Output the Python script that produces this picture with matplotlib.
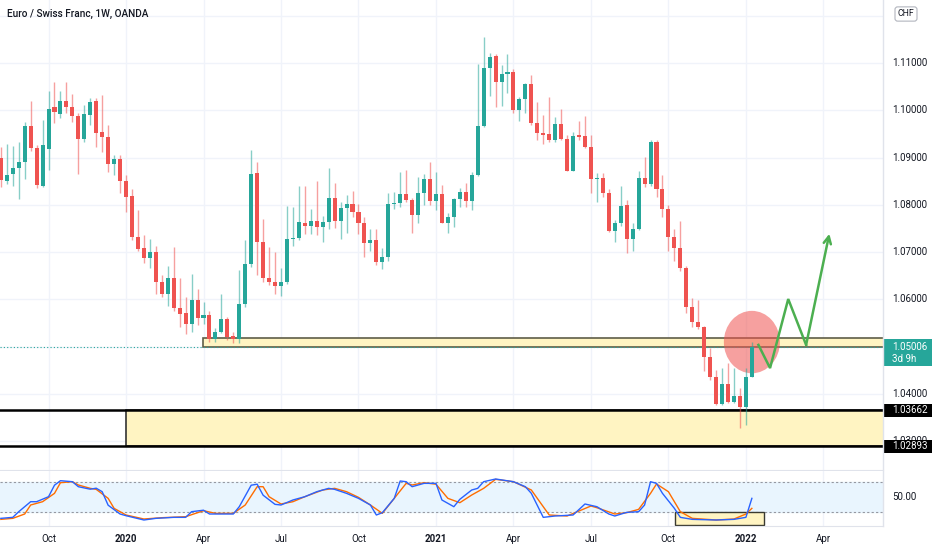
import matplotlib
matplotlib.use("Agg")
import matplotlib.pyplot as plt
import matplotlib.transforms as mtransforms
from matplotlib.patches import Rectangle, Ellipse
import pandas as pd

plt.rcParams['font.family'] = ['Roboto', 'DejaVu Sans']

# ---------------- data ----------------
TITLE = "Euro / Swiss Franc, 1W, OANDA"
FIRST_WEEK = "2019-08-12"   # weekly bars (Mondays)

OPEN = [1.0899, 1.0851, 1.0865, 1.0879, 1.0890, 1.0967, 1.0921, 1.0841, 1.0918, 1.1006,
        1.0992, 1.1020, 1.1006, 1.0989, 1.0939, 1.0990, 1.1020, 1.0955, 1.0943, 1.0886,
        1.0896, 1.0851, 1.0819, 1.0733, 1.0708, 1.0687, 1.0700, 1.0638, 1.0612, 1.0646,
        1.0583, 1.0571, 1.0548, 1.0599, 1.0560, 1.0567, 1.0516, 1.0531, 1.0558, 1.0523,
        1.0516, 1.0590, 1.0674, 1.0867, 1.0721, 1.0646, 1.0636, 1.0629, 1.0636, 1.0727,
        1.0729, 1.0762, 1.0755, 1.0766, 1.0753, 1.0764, 1.0814, 1.0767, 1.0793, 1.0801,
        1.0784, 1.0762, 1.0720, 1.0726, 1.0680, 1.0690, 1.0801, 1.0803, 1.0822, 1.0810,
        1.0779, 1.0825, 1.0855, 1.0809, 1.0822, 1.0762, 1.0775, 1.0812, 1.0827, 1.0809,
        1.0863, 1.0967, 1.1089, 1.1115, 1.1060, 1.1077, 1.1082, 1.1001, 1.1024, 1.1056,
        1.0974, 1.0953, 1.0949, 1.0937, 1.0971, 1.0939, 1.0872, 1.0948, 1.0946, 1.0923,
        1.0854, 1.0856, 1.0826, 1.0745, 1.0762, 1.0799, 1.0728, 1.0748, 1.0856, 1.0844,
        1.0932, 1.0834, 1.0791, 1.0733, 1.0708, 1.0667, 1.0585, 1.0552, 1.0542, 1.0479,
        1.0437, 1.0379, 1.0421, 1.0384, 1.0395, 1.0373, 1.0436]
HIGH = [1.0923, 1.0929, 1.0925, 1.0932, 1.0975, 1.1020, 1.0927, 1.0980, 1.1041, 1.1059,
        1.1041, 1.1059, 1.1034, 1.0995, 1.1011, 1.1025, 1.1025, 1.1032, 1.0969, 1.0905,
        1.0905, 1.0863, 1.0833, 1.0789, 1.0736, 1.0728, 1.0713, 1.0652, 1.0671, 1.0710,
        1.0646, 1.0606, 1.0653, 1.0622, 1.0594, 1.0576, 1.0539, 1.0611, 1.0564, 1.0532,
        1.0662, 1.0726, 1.0916, 1.0891, 1.0770, 1.0712, 1.0700, 1.0667, 1.0798, 1.0796,
        1.0840, 1.0840, 1.0791, 1.0851, 1.0777, 1.0879, 1.0847, 1.0807, 1.0821, 1.0830,
        1.0802, 1.0774, 1.0749, 1.0748, 1.0708, 1.0825, 1.0827, 1.0870, 1.0874, 1.0814,
        1.0860, 1.0865, 1.0891, 1.0869, 1.0842, 1.0783, 1.0814, 1.0836, 1.0846, 1.0870,
        1.1098, 1.1154, 1.1121, 1.1119, 1.1096, 1.1119, 1.1087, 1.1029, 1.1057, 1.1075,
        1.1018, 1.0990, 1.1029, 1.0985, 1.1002, 1.0948, 1.0955, 1.0978, 1.0988, 1.0948,
        1.0867, 1.0867, 1.0833, 1.0768, 1.0840, 1.0810, 1.0761, 1.0872, 1.0902, 1.0937,
        1.0937, 1.0863, 1.0800, 1.0748, 1.0767, 1.0671, 1.0603, 1.0599, 1.0544, 1.0497,
        1.0452, 1.0455, 1.0466, 1.0455, 1.0412, 1.0455, 1.0511]
LOW = [1.0837, 1.0844, 1.0840, 1.0812, 1.0854, 1.0914, 1.0835, 1.0837, 1.0874, 1.0973,
       1.0983, 1.0994, 1.0976, 1.0865, 1.0933, 1.0969, 1.0922, 1.0912, 1.0870, 1.0863,
       1.0826, 1.0784, 1.0726, 1.0703, 1.0677, 1.0666, 1.0612, 1.0606, 1.0586, 1.0576,
       1.0541, 1.0527, 1.0532, 1.0546, 1.0548, 1.0511, 1.0511, 1.0529, 1.0514, 1.0509,
       1.0507, 1.0585, 1.0669, 1.0652, 1.0638, 1.0631, 1.0612, 1.0608, 1.0633, 1.0713,
       1.0726, 1.0738, 1.0738, 1.0736, 1.0722, 1.0748, 1.0752, 1.0728, 1.0741, 1.0774,
       1.0738, 1.0689, 1.0703, 1.0673, 1.0664, 1.0681, 1.0791, 1.0796, 1.0807, 1.0740,
       1.0761, 1.0800, 1.0800, 1.0789, 1.0761, 1.0740, 1.0753, 1.0796, 1.0796, 1.0789,
       1.0862, 1.0965, 1.1031, 1.1006, 1.1010, 1.1037, 1.0994, 1.0978, 1.0995, 1.0969,
       1.0937, 1.0929, 1.0934, 1.0934, 1.0937, 1.0872, 1.0872, 1.0937, 1.0920, 1.0826,
       1.0807, 1.0817, 1.0743, 1.0721, 1.0756, 1.0698, 1.0703, 1.0747, 1.0838, 1.0840,
       1.0817, 1.0775, 1.0703, 1.0682, 1.0660, 1.0571, 1.0542, 1.0537, 1.0449, 1.0430,
       1.0377, 1.0377, 1.0382, 1.0382, 1.0328, 1.0335, 1.0436]
CLOSE = [1.0853, 1.0863, 1.0879, 1.0890, 1.0967, 1.0921, 1.0842, 1.0927, 1.1002, 1.0997,
         1.1020, 1.1006, 1.0989, 1.0939, 1.0992, 1.1018, 1.0953, 1.0943, 1.0886, 1.0896,
         1.0851, 1.0817, 1.0733, 1.0707, 1.0687, 1.0700, 1.0638, 1.0612, 1.0646, 1.0583,
         1.0569, 1.0548, 1.0599, 1.0560, 1.0567, 1.0516, 1.0531, 1.0558, 1.0521, 1.0516,
         1.0590, 1.0674, 1.0865, 1.0721, 1.0645, 1.0636, 1.0629, 1.0636, 1.0728, 1.0731,
         1.0763, 1.0755, 1.0766, 1.0754, 1.0764, 1.0814, 1.0767, 1.0794, 1.0801, 1.0784,
         1.0762, 1.0719, 1.0726, 1.0680, 1.0690, 1.0801, 1.0803, 1.0822, 1.0810, 1.0779,
         1.0825, 1.0855, 1.0809, 1.0822, 1.0762, 1.0775, 1.0812, 1.0827, 1.0809, 1.0863,
         1.0967, 1.1089, 1.1113, 1.1060, 1.1076, 1.1082, 1.1001, 1.1024, 1.1056, 1.0974,
         1.0953, 1.0948, 1.0937, 1.0971, 1.0939, 1.0872, 1.0946, 1.0944, 1.0923, 1.0855,
         1.0856, 1.0826, 1.0745, 1.0762, 1.0798, 1.0728, 1.0748, 1.0856, 1.0844, 1.0932,
         1.0834, 1.0791, 1.0733, 1.0708, 1.0667, 1.0585, 1.0552, 1.0542, 1.0479, 1.0436,
         1.0379, 1.0421, 1.0384, 1.0395, 1.0373, 1.0436, 1.05006]

# Stochastic (%K blue, %D orange) read at bar indices
STOCH_K_BARS = [0, 2, 3, 5, 6, 8, 9, 10, 12, 13, 15, 16, 17, 18, 20, 21, 24, 26, 29, 31,
                32, 34, 35, 39, 40, 42, 43, 44, 46, 47, 49, 51, 53, 55, 56, 58, 60, 62, 63, 64,
                66, 67, 68, 69, 71, 73, 74, 76, 77, 79, 80, 81, 83, 86, 88, 89, 91, 93, 96, 98,
                100, 102, 103, 105, 107, 108, 109, 110, 111, 113, 114, 116, 120, 123, 125, 126]
STOCH_K = [6.7, 8.7, 20, 40, 40, 50, 73, 82, 80, 70, 65, 67, 60, 33, 15.4, 12, 3.4, 6.7, 8.7, 8.7,
           20, 23, 15.4, 15.4, 30, 73, 75, 53, 34.7, 33.4, 43.4, 50, 60, 66.7, 64.7, 56.7, 46.7, 33.4, 13.4, 18,
           46.7, 81.4, 80, 70, 76.7, 76.7, 43.4, 30, 44.7, 63.4, 66.7, 80, 85.4, 80, 70, 56.7, 8.7, 11.4, 13.4, 35.4,
           30, 15.4, 11.4, 18.7, 20, 33.4, 80, 76.7, 56.7, 26.7, 8.7, 4.7, 3.4, 4.7, 8.7, 46.7]
STOCH_D_BARS = [0, 2, 4, 5, 7, 9, 10, 12, 13, 15, 16, 18, 19, 21, 24, 27, 31, 33, 34, 36,
                39, 41, 43, 44, 45, 47, 49, 51, 54, 56, 58, 60, 62, 64, 66, 68, 69, 71, 73, 75,
                77, 79, 81, 83, 86, 89, 91, 92, 95, 99, 100, 103, 105, 107, 109, 110, 112, 114, 116, 120,
                123, 125, 126]
STOCH_D = [4.7, 6.7, 15.4, 33.4, 40, 56.7, 78, 80, 73.4, 66.7, 64.7, 46.7, 26.7, 13.4, 5.4, 8, 10, 18, 22, 16.7,
           16.7, 33.4, 70, 70, 50, 35.4, 40, 50, 63.4, 66.7, 60, 48.7, 33.4, 16.7, 46.7, 76.7, 73.4, 78, 75, 46.7,
           38, 53.4, 66.7, 84.7, 80, 63.4, 30, 13.4, 11.4, 31.4, 28, 15.4, 18, 24.7, 56.7, 75.4, 60, 20, 6.7, 3.4,
           5.4, 15.4, 26.7]

TICK_DATES = ["2019-10-07", "2020-01-06", "2020-04-06", "2020-07-06", "2020-10-05", "2021-01-04",
              "2021-04-05", "2021-07-05", "2021-10-04", "2022-01-03", "2022-04-04"]
TICK_LABELS = ["Oct", "2020", "Apr", "Jul", "Oct", "2021", "Apr", "Jul", "Oct", "2022", "Apr"]
PRICE_TICKS = [1.03, 1.04, 1.05, 1.06, 1.07, 1.08, 1.09, 1.10, 1.11]
GRID_PRICES = [1.03, 1.04, 1.05, 1.06, 1.07, 1.08, 1.09, 1.10, 1.11, 1.12]

# drawings (analyst annotations)
ZONE1 = (1.0500, 1.0518)          # resistance zone price range
ZONE1_START = "2020-04-06"
ZONE2 = (1.02893, 1.03662)        # support zone price range
ZONE2_START = "2020-01-06"
LAST_PRICE = 1.05006
COUNTDOWN = "3d 9h"
CIRCLE_CENTER = (126, 1.0510)
CIRCLE_SIZE = (9.4, 0.0132)
PROJ_BARS = [127.1, 129.05, 132.1, 135.1, 139.0]
PROJ_PRICES = [1.0504, 1.0455, 1.0601, 1.0504, 1.0739]
STOCH_BOX = (113.1, 128.1, -6.3, 20.4)

# ---------------- figure ----------------
W, H = 932, 550
fig = plt.figure(figsize=(W / 100, H / 100), dpi=100)
PANE_R = 883
MAIN_BOT = 470
ST_TOP, ST_BOT = 471, 526
ax = fig.add_axes([0, 1 - MAIN_BOT / H, PANE_R / W, MAIN_BOT / H])
axs = fig.add_axes([0, 1 - ST_BOT / H, PANE_R / W, (ST_BOT - ST_TOP) / H])

dates = pd.date_range(FIRST_WEEK, periods=160, freq="7D")
date_idx = {d.strftime("%Y-%m-%d"): i for i, d in enumerate(dates)}
tick_bars = [date_idx[d] for d in TICK_DATES]

XLIM = (-0.143, 148.0)
YLIM = (1.023953, 1.123319)
for a in (ax, axs):
    a.set_xlim(*XLIM)
    a.set_facecolor("white")
    for s in a.spines.values():
        s.set_visible(False)
    a.tick_params(left=False, right=False, bottom=False, top=False,
                  labelleft=False, labelbottom=False)
    for b in tick_bars:
        a.axvline(b, color="#f0f3fa", lw=1, zorder=0)
ax.set_ylim(*YLIM)
axs.set_ylim(-8.6, 101.4)

for p in GRID_PRICES:
    ax.axhline(p, color="#f0f3fa", lw=1, zorder=0)

ax.spines["bottom"].set_visible(True)
ax.spines["bottom"].set_color("#e0e3eb")
axs.spines["bottom"].set_visible(True)
axs.spines["bottom"].set_color("#e0e3eb")
fig.add_artist(plt.Line2D([PANE_R / W, PANE_R / W], [1 - ST_BOT / H, 1], color="#e0e3eb", lw=1))

# zones
z1s = date_idx[ZONE1_START] - 0.1
ax.add_patch(Rectangle((z1s, ZONE1[0]), 300, ZONE1[1] - ZONE1[0], fc="#fff4c2",
                       ec="#5f5d48", lw=1.2, zorder=1))
z2s = date_idx[ZONE2_START]
ax.add_patch(Rectangle((z2s, ZONE2[0]), 300, ZONE2[1] - ZONE2[0], fc="#fff4c2",
                       ec="#333333", lw=1.2, zorder=1))
for p in ZONE2:
    ax.axhline(p, color="black", lw=1.8, zorder=2)
ax.axhline(LAST_PRICE, color="#26a69a", lw=0.8, ls=(0, (1, 2)), zorder=2)

# circle highlight
ax.add_patch(Ellipse(CIRCLE_CENTER, CIRCLE_SIZE[0], CIRCLE_SIZE[1], fc="#ef5350",
                     alpha=0.55, ec="none", zorder=3))

# candles
UP, DN = "#26a69a", "#ef5350"
n = len(CLOSE)
bw = 0.68
for i in range(n):
    o, h, l, c = OPEN[i], HIGH[i], LOW[i], CLOSE[i]
    col = UP if c >= o else DN
    ax.plot([i, i], [l, h], color=col, alpha=0.55, lw=1.0, zorder=4, solid_capstyle="butt")
    lo, hi = min(o, c), max(o, c)
    ht = max(hi - lo, 0.00022)
    ax.add_patch(Rectangle((i - bw / 2, lo), bw, ht, fc=col, ec="none", zorder=5))

# projection path
GREEN = "#4caf50"
ax.plot(PROJ_BARS[:-1], PROJ_PRICES[:-1], color=GREEN, lw=1.8, zorder=6,
        solid_joinstyle="miter")
ax.annotate("", xy=(PROJ_BARS[-1], PROJ_PRICES[-1]), xytext=(PROJ_BARS[-2], PROJ_PRICES[-2]),
            arrowprops=dict(arrowstyle="->", color=GREEN, lw=1.8, mutation_scale=13,
                            shrinkA=0, shrinkB=0), zorder=6)

# price axis labels
px = (YLIM[1] - YLIM[0]) / MAIN_BOT
trans = mtransforms.blended_transform_factory(fig.transFigure, ax.transData)
LX = 892 / W
for p in PRICE_TICKS:
    ax.text(LX, p, f"{p:.5f}", transform=trans, ha="left", va="center",
            fontsize=7, color="#131722", clip_on=False, zorder=10)

def axis_box(price, color, h_px, top_px):
    ax.add_patch(Rectangle((PANE_R / W, price - (h_px - top_px) * px), 1 - PANE_R / W, h_px * px,
                           transform=trans, fc=color, ec="none", clip_on=False, zorder=11))

axis_box(LAST_PRICE, "#26a69a", 27, 8)
ax.text(LX, LAST_PRICE, f"{LAST_PRICE:.5f}", transform=trans, ha="left", va="center",
        fontsize=7, color="white", clip_on=False, zorder=12)
ax.text(LX, LAST_PRICE - 12.6 * px, COUNTDOWN, transform=trans, ha="left", va="center",
        fontsize=7, color="white", clip_on=False, zorder=12)
for p in ZONE2[::-1]:
    axis_box(p, "black", 13, 6.5)
    ax.text(LX, p, f"{p:.5f}", transform=trans, ha="left", va="center",
            fontsize=7, color="white", clip_on=False, zorder=12)

# stochastic pane
axs.axhspan(20, 80, color="#e9f5fe", zorder=0)
for v in (80, 20):
    axs.axhline(v, color="#9598a1", lw=0.8, ls=(0, (2, 2)), zorder=1)
axs.add_patch(Rectangle((STOCH_BOX[0], STOCH_BOX[2]), STOCH_BOX[1] - STOCH_BOX[0],
                        STOCH_BOX[3] - STOCH_BOX[2], fc="#fff4c2", ec="#3a3a30", lw=1.0, zorder=2))
axs.plot(STOCH_D_BARS, STOCH_D, color="#ff6d00", lw=1.0, zorder=3)
axs.plot(STOCH_K_BARS, STOCH_K, color="#2962ff", lw=1.0, zorder=4)
strans = mtransforms.blended_transform_factory(fig.transFigure, axs.transData)
axs.text(LX, 50, "50.00", transform=strans, ha="left", va="center", fontsize=7,
         color="#131722", clip_on=False)

# time axis
axs.set_xticks(tick_bars)
axs.set_xticklabels(TICK_LABELS)
axs.tick_params(axis="x", labelbottom=True, length=0, pad=6, labelsize=7, labelcolor="#131722")
for lab in axs.get_xticklabels():
    if lab.get_text().isdigit():
        lab.set_fontweight("bold")

# title & currency badge
fig.text(7 / W, 1 - 14 / H, TITLE, ha="left", va="center", fontsize=7.2,
         fontweight="medium", color="#131722")
fig.text(906 / W, 1 - 14 / H, "CHF", ha="center", va="center", fontsize=6.3, color="#131722",
         bbox=dict(boxstyle="round,pad=0.3,rounding_size=0.3", fc="white", ec="#b2b5be", lw=0.8))

fig.savefig("out.png", dpi=100, facecolor="white")
